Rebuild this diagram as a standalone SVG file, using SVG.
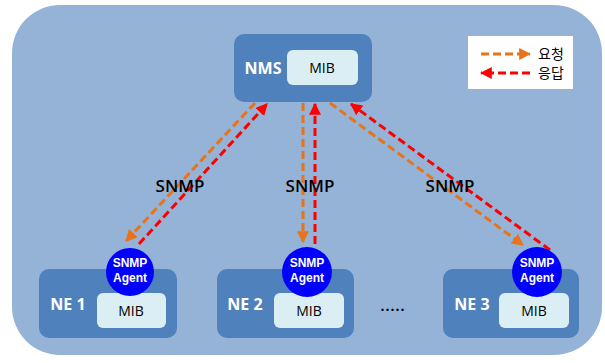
<svg xmlns="http://www.w3.org/2000/svg" width="605" height="363" viewBox="0 0 605 363">
<defs>
<marker id="ao" viewBox="0 0 10 10" refX="9" refY="5" markerWidth="4" markerHeight="4" orient="auto" markerUnits="strokeWidth"><path d="M0,0 L10,5 L0,10 z" fill="#E8731A"/></marker>
<marker id="ar" viewBox="0 0 10 10" refX="9" refY="5" markerWidth="4" markerHeight="4" orient="auto" markerUnits="strokeWidth"><path d="M0,0 L10,5 L0,10 z" fill="#FF0000"/></marker>
</defs>
<style>
.node{fill:#4F81BD}
.mib{fill:#DBEEF4}
.lbl{font-family:"Open Sans","Noto Sans",sans-serif;font-weight:bold;fill:#fff;font-size:16px;text-anchor:middle}
.mibt{font-family:"Open Sans","Noto Sans",sans-serif;fill:#000;font-size:14px;text-anchor:middle}
.ag{font-family:"Liberation Sans",Arial,sans-serif;font-weight:bold;fill:#fff;font-size:12px;text-anchor:middle}
.snmp{font-family:"Open Sans","Noto Sans",sans-serif;font-weight:600;fill:#000;font-size:17px;text-anchor:middle}
.req{stroke:#E8731A;stroke-width:3;stroke-dasharray:8 4;fill:none}
.res{stroke:#FF0000;stroke-width:3;stroke-dasharray:8 4;fill:none}
.leg{font-family:"Noto Sans CJK KR",sans-serif;fill:#000;font-size:14px}
</style>
<rect x="12" y="5" width="590" height="350" rx="48" fill="#95B3D7"/>
<g id="legend">
<rect x="468" y="36" width="105" height="53" fill="#fff"/>
<line x1="481" y1="54" x2="530" y2="54" class="req" marker-end="url(#ao)"/>
<line x1="530" y1="73" x2="481" y2="73" class="res" marker-end="url(#ar)"/>
<text x="538" y="59" class="leg">요청</text>
<text x="538" y="78" class="leg">응답</text>
</g>
<g id="NMS">
<rect x="234" y="34" width="138" height="68" rx="10" class="node"/>
<rect x="287" y="50" width="71" height="35" rx="6" class="mib"/>
<text x="263" y="74" class="lbl">NMS</text>
<text x="322" y="73" class="mibt">MIB</text>
</g>
<g id="connectors">
<line x1="255" y1="103" x2="126" y2="241" class="req" marker-end="url(#ao)"/>
<line x1="139" y1="244" x2="267" y2="104" class="res" marker-end="url(#ar)"/>
<line x1="303" y1="103" x2="303" y2="242" class="req" marker-end="url(#ao)"/>
<line x1="315" y1="244" x2="315" y2="104" class="res" marker-end="url(#ar)"/>
<line x1="330" y1="103" x2="523" y2="245" class="req" marker-end="url(#ao)"/>
<line x1="550" y1="250" x2="351" y2="104" class="res" marker-end="url(#ar)"/>
</g>
<text x="180" y="192" class="snmp">SNMP</text>
<text x="310" y="192" class="snmp">SNMP</text>
<text x="450" y="192" class="snmp">SNMP</text>
<g id="NE1">
<rect x="39" y="269" width="138" height="69" rx="10" class="node"/>
<rect x="97" y="293" width="69" height="35" rx="6" class="mib"/>
<text x="68" y="310" class="lbl">NE 1</text>
<text x="131" y="316" class="mibt">MIB</text>
<circle cx="130" cy="272" r="24" fill="#0000FF"/>
<text x="130" y="267" class="ag">SNMP</text>
<text x="130" y="282" class="ag">Agent</text>
</g>
<g id="NE2">
<rect x="217" y="269" width="137" height="69" rx="10" class="node"/>
<rect x="274" y="293" width="70" height="35" rx="6" class="mib"/>
<text x="245" y="310" class="lbl">NE 2</text>
<text x="309" y="316" class="mibt">MIB</text>
<circle cx="307" cy="272" r="25" fill="#0000FF"/>
<text x="307" y="267" class="ag">SNMP</text>
<text x="307" y="282" class="ag">Agent</text>
</g>
<text x="393" y="311" class="mibt" style="font-weight:bold;letter-spacing:1px">.....</text>
<g id="NE3">
<rect x="443" y="269" width="136" height="69" rx="10" class="node"/>
<rect x="499" y="293" width="70" height="35" rx="6" class="mib"/>
<text x="472" y="310" class="lbl">NE 3</text>
<text x="534" y="316" class="mibt">MIB</text>
<circle cx="537" cy="272" r="25" fill="#0000FF"/>
<text x="537" y="267" class="ag">SNMP</text>
<text x="537" y="282" class="ag">Agent</text>
</g>
</svg>
